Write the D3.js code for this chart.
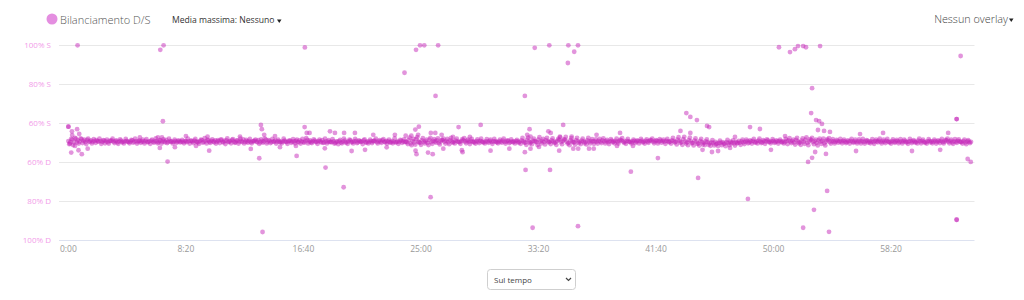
<!DOCTYPE html>
<html>
<head>
<meta charset="utf-8">
<script src="https://cdn.jsdelivr.net/npm/d3@7"></script>
<style>
  body { margin: 0; background: #fff; font-family: 'Open Sans', sans-serif; }
  svg { display: block; }
</style>
</head>
<body>
<svg width="1024" height="300"></svg>
<script>
// sampling step of the main series, seconds
const sampleStep = 8;

// balance values (% S), samples at 0, 8, 16 ... s
const band = [
  50.8,50.2,51.6,50.1,52.0,51.2,50.6,51.8,50.9,50.3,51.4,50.7,51.1,50.5,50.9,51.3,50.6,50.8,50.4,51.0,
  50.7,50.3,50.9,51.1,50.5,50.8,50.2,50.6,51.0,50.4,50.7,50.9,50.3,50.6,51.2,50.5,50.8,50.4,50.9,50.6,
  50.5,50.9,50.3,50.7,51.0,50.4,50.8,50.6,50.2,51.1,50.5,50.7,51.4,50.3,50.9,50.6,50.4,50.8,50.5,50.7,
  50.6,50.4,50.8,50.3,50.7,50.9,50.5,51.0,50.6,50.2,50.8,51.3,50.4,50.7,51.5,50.3,50.9,50.6,51.2,50.5,
  50.8,51.6,50.4,50.9,51.1,50.3,50.7,51.4,50.6,50.2,51.0,50.5,50.8,51.7,50.4,50.6,50.9,50.3,50.7,51.0,
  50.5,51.3,50.2,50.8,50.6,51.5,50.4,50.9,50.3,50.7,51.1,50.5,50.8,50.4,50.6,51.0,50.3,50.7,50.9,50.5,
  50.6,50.9,50.4,51.2,50.7,50.3,50.8,51.4,50.5,50.2,50.7,51.0,50.4,50.8,50.6,51.3,50.1,50.7,50.5,50.3,
  50.2,50.6,49.9,50.4,50.8,50.1,50.5,51.0,50.3,50.7,51.2,50.4,50.6,50.9,50.2,50.8,50.5,51.1,50.3,50.7,
  50.4,50.8,50.6,51.0,50.3,50.7,50.5,51.2,50.4,50.9,50.6,50.2,50.8,50.5,50.1,50.7,50.4,51.0,50.6,50.3,
  50.2,51.4,49.6,50.8,50.1,51.8,50.5,49.9,51.2,50.4,50.7,49.8,51.5,50.3,50.9,50.6,51.1,50.0,50.7,51.3,
  50.5,50.9,50.2,51.2,50.6,50.4,51.0,50.7,50.3,50.8,51.1,50.5,50.9,50.4,50.7,50.6,50.2,50.8,50.5,50.9,
  50.6,50.3,50.7,50.5,50.9,50.4,50.6,50.8,50.2,50.7,50.5,51.0,50.4,50.6,50.9,50.3,50.7,50.5,50.8,50.6,
  50.4,51.2,50.7,50.1,51.5,50.6,50.3,51.0,50.8,50.2,51.6,50.5,50.9,50.3,51.3,50.7,50.4,51.1,50.6,50.2,
  50.9,51.4,50.3,50.8,51.7,50.5,49.9,51.1,50.6,50.2,51.3,50.7,50.4,51.0,50.6,50.3,51.2,50.5,50.8,50.6,
  50.7,50.4,50.9,50.5,51.1,50.6,50.8,50.3,50.7,51.0,50.5,50.9,50.4,50.8,51.2,50.6,50.5,50.9,50.7,50.4,
  50.6,50.9,50.5,50.8,50.7,51.0,50.4,50.9,50.6,50.8,51.1,50.5,50.7,50.9,50.6,51.0,50.8,50.5,50.9,50.7,
  50.6,51.2,50.8,50.4,51.5,50.9,50.3,51.8,50.6,50.2,51.3,50.7,49.8,51.0,50.5,49.6,50.9,50.2,49.9,50.6,
  50.3,49.7,50.1,49.8,50.4,49.6,50.0,49.9,50.3,49.5,50.2,49.8,50.5,50.1,49.7,50.4,50.0,49.9,50.6,50.2,
  50.4,50.8,50.1,50.6,50.9,50.3,50.7,51.0,50.5,50.2,50.8,50.6,51.1,50.4,50.7,50.9,50.3,50.6,50.8,50.5,
  50.7,50.3,50.9,51.2,50.5,50.8,50.1,51.4,50.6,50.2,51.0,50.4,51.6,49.9,50.7,51.3,50.3,50.8,49.8,51.1,
  50.5,50.9,49.7,50.6,51.2,50.3,50.8,50.6,50.4,50.9,50.7,50.5,50.8,50.6,50.3,50.7,50.9,50.5,50.6,50.4,
  50.7,50.5,50.8,50.4,50.6,50.9,50.5,50.7,50.3,50.8,50.6,51.0,50.4,50.7,50.5,50.9,50.6,50.3,50.8,50.5,
  50.6,50.8,50.4,50.7,50.5,50.9,50.3,50.6,50.8,50.5,50.7,50.4,51.0,50.6,50.8,50.5,50.3,50.7,50.9,50.6,
  50.5,50.8,50.4,50.7,50.9,50.3,50.6,51.1,50.5,50.8,50.2,50.7,50.4,50.9,50.6,50.3,50.8,50.1,50.6,50.5,
  50.4
];

// balance values (% S), samples at 4, 12, 20 ... s
const bandHalf = [
  49.2,51.9,48.8,52.4,50.1,49.5,52.2,49.8,51.5,49.3,52.0,50.4,49.6,51.8,49.9,50.7,52.1,49.4,51.3,49.7,
  51.6,49.5,50.9,52.0,49.8,51.2,49.4,51.7,50.2,49.6,51.9,50.5,49.7,51.4,50.0,52.1,49.5,51.0,49.9,51.5,
  49.6,51.8,50.3,49.4,51.6,50.0,52.2,49.7,51.1,49.5,51.7,50.2,49.8,52.0,50.4,49.6,51.5,49.9,51.2,50.1,
  51.4,49.7,50.8,52.1,49.5,51.0,49.8,51.9,50.3,49.4,51.6,50.0,52.3,49.6,51.1,49.9,51.7,50.2,49.5,51.3,
  49.8,51.5,50.1,49.3,52.2,50.6,49.7,51.8,49.9,51.2,49.5,52.0,50.3,49.6,51.4,50.0,51.9,49.7,50.8,51.6,
  50.2,49.4,51.7,50.0,52.1,49.6,51.3,49.8,51.9,50.4,49.5,51.6,50.1,49.7,52.0,50.5,49.4,51.2,49.9,51.8,
  49.7,51.6,50.2,49.5,51.9,50.0,52.3,49.6,51.1,49.8,51.7,50.3,49.4,51.5,50.1,49.9,52.0,49.6,51.3,50.4,
  51.8,49.5,50.6,49.2,51.4,49.7,52.1,50.0,49.4,51.6,50.2,49.6,51.9,49.8,51.2,50.4,49.3,51.7,50.0,49.6,
  51.5,49.8,50.9,52.0,49.6,51.3,49.9,51.8,50.2,49.5,51.6,50.1,49.7,52.2,50.3,49.4,51.4,49.9,51.7,50.5,
  49.3,52.6,48.7,51.9,49.0,52.8,50.2,48.9,52.3,49.6,51.5,48.8,52.5,49.4,51.8,50.0,52.2,49.1,51.4,52.0,
  49.5,51.9,49.2,52.4,50.0,49.6,52.1,50.3,49.4,51.8,52.3,49.7,51.5,49.3,51.9,50.2,49.5,51.7,49.8,52.0,
  50.1,49.6,51.8,49.9,51.5,49.4,51.9,50.3,49.7,51.6,50.0,52.1,49.5,51.2,49.8,51.7,50.2,49.6,51.4,49.9,
  49.4,52.4,50.0,48.9,52.6,49.7,49.2,52.1,50.5,48.8,52.8,49.6,51.9,49.1,52.5,50.2,49.3,52.2,49.8,48.9,
  51.9,52.7,49.2,51.6,52.9,49.5,48.7,52.3,50.1,49.0,52.5,49.8,49.3,52.0,49.7,49.1,52.4,49.6,51.8,49.4,
  51.7,49.5,51.9,49.8,52.2,49.6,51.4,49.3,51.8,50.2,49.7,52.0,49.5,51.6,52.3,49.9,49.4,51.9,50.3,49.6,
  51.5,49.8,51.2,49.6,51.9,50.1,49.5,51.7,49.9,51.4,52.0,49.7,51.3,49.6,51.8,50.0,51.5,49.4,51.9,50.2,
  49.5,52.5,50.1,49.1,52.8,49.9,48.9,53.0,49.6,48.7,52.6,49.8,48.6,52.2,49.4,48.5,51.9,49.0,48.8,51.7,
  48.9,48.4,51.3,48.6,49.2,48.3,51.0,48.7,49.5,48.2,51.4,48.8,49.6,51.2,48.5,49.7,50.9,48.9,51.5,49.3,
  51.6,49.7,51.2,49.5,51.9,50.0,49.6,52.0,49.8,51.3,49.4,51.7,50.3,49.7,51.8,49.9,51.1,49.5,51.6,50.1,
  49.6,51.9,49.3,52.3,49.8,51.6,49.0,52.5,49.7,48.9,52.2,49.4,52.7,48.7,51.8,52.4,49.2,51.6,48.6,52.1,
  49.4,52.0,48.6,51.7,52.3,49.5,51.8,49.6,51.4,50.0,51.9,49.7,51.6,49.8,51.2,49.5,51.9,49.9,51.5,49.6,
  51.7,49.6,51.9,49.5,51.3,50.0,49.7,51.8,49.4,51.6,50.2,52.0,49.6,51.5,49.8,51.9,50.1,49.5,51.7,49.9,
  51.4,49.7,51.8,49.6,51.5,50.2,49.4,51.9,49.8,51.3,50.0,49.6,52.1,49.7,51.6,49.9,49.5,51.8,50.1,49.7,
  51.6,49.5,51.2,49.8,51.9,49.6,51.4,52.0,49.7,51.5,49.4,51.8,49.9,51.7,50.3,49.5,51.6,49.2,51.3,49.8
];

// off-band samples: [seconds, % S]
const outliers = [
  [0,58.2],[0,58.2],[6,49.5],[12,44.9],[15,55.8],[16,53.9],[28,48.3],[37,56.9],[39,100],[43,46.1],
  [46,54.5],[57,44.1],[82,46.9],[304,52.7],[381,52.7],[389,47.3],[391,97.7],[398,52.7],[402,61],[405,100],
  [422,40.3],[453,47.7],[500,53.4],[543,48.3],[592,53.1],[599,45.9],[730,53.1],[776,46.8],[812,42],[819,59.1],
  [823,56.9],[826,4.1],[833,54],[879,53.4],[900,47.7],[968,48.3],[971,43.2],[1005,58],[1006,98.9],[1014,55],
  [1026,55],[1091,47.1],[1094,37.2],[1113,55.8],[1134,55],[1171,27.1],[1173,55],[1205,45.7],[1219,55],[1262,46.3],
  [1297,54],[1354,47.6],[1389,54],[1430,85.9],[1435,53.6],[1459,53.6],[1476,56.7],[1477,45.9],[1479,97.7],[1481,44.1],
  [1488,54],[1491,58.2],[1496,100],[1514,100],[1530,44.9],[1541,22],[1542,55],[1550,44.1],[1561,55],[1562,74],
  [1573,100],[1588,54],[1595,46.9],[1636,52.9],[1660,58],[1674,46.1],[1677,45.1],[1708,52.9],[1754,59.1],[1796,45.9],
  [1876,46.9],[1942,74],[1942,45.1],[1945,36],[1952,54],[1962,56.9],[1966,53.1],[1966,46.9],[1975,6.3],[1984,98.7],
  [2002,47.8],[2042,55.8],[2046,100],[2049,36],[2052,55],[2088,45.9],[2091,53.1],[2105,59.1],[2125,90.9],[2127,100],
  [2141,53.1],[2148,46.9],[2152,96.7],[2168,100],[2168,7.1],[2169,46.9],[2215,46.9],[2235,46.9],[2247,54],[2334,48.3],
  [2347,55],[2393,35.1],[2402,48.3],[2508,42.1],[2604,56],[2629,65.2],[2646,63.2],[2646,55],[2674,61.6],[2679,31.9],
  [2698,46.3],[2717,58.6],[2726,58],[2738,45.2],[2764,45.7],[2815,47.3],[2836,52.9],[2891,21.1],[2900,58],[2942,57],
  [2989,46.3],[3023,99],[3049,53.4],[3070,96.5],[3091,98],[3104,99.6],[3126,99.6],[3126,6.3],[3138,99],[3147,40.1],
  [3160,65.2],[3164,78],[3164,42.2],[3172,15.5],[3177,45.2],[3181,61.6],[3189,56.5],[3194,61.1],[3198,99.6],[3206,59.6],
  [3215,56],[3223,44.2],[3228,25.2],[3236,4.2],[3240,55.5],[3351,45.7],[3368,54.4],[3466,55],[3589,45.7],[3709,46.3],
  [3743,55],[3779,62.1],[3779,62.1],[3779,10.4],[3779,10.4],[3796,94.5],[3826,41.6],[3839,40.1]
];

const yTicks = [100, 80, 60, 40, 20, 0];
const xTicks = [0, 500, 1000, 1500, 2000, 2500, 3000, 3500];

const svg = d3.select('svg');

const x = d3.scaleLinear().domain([-40, 3855]).range([59, 974.5]);
const y = d3.scaleLinear().domain([0, 100]).range([240, 45.3]);

const yLabel = (v) => v >= 50 ? v + '% S' : (100 - v) + '% D';
const xLabel = (s) => Math.floor(s / 60) + ':' + d3.format('02')(s % 60);

// grid
svg.append('g').selectAll('line')
  .data(yTicks)
  .join('line')
  .attr('x1', x.range()[0])
  .attr('x2', x.range()[1])
  .attr('y1', d => Math.round(y(d)) + 0.5)
  .attr('y2', d => Math.round(y(d)) + 0.5)
  .attr('stroke', d => d === 0 ? '#dde2f0' : '#e8e8e8')
  .attr('stroke-width', 1);

// y labels
svg.append('g').selectAll('text')
  .data(yTicks)
  .join('text')
  .attr('x', 51)
  .attr('y', d => y(d) + 3)
  .attr('text-anchor', 'end')
  .attr('font-size', '8px')
  .attr('fill', '#f29be9')
  .text(yLabel);

// x labels
svg.append('g').selectAll('text')
  .data(xTicks)
  .join('text')
  .attr('x', d => x(d))
  .attr('y', 252)
  .attr('text-anchor', 'middle')
  .attr('font-size', '8.5px')
  .attr('fill', '#999')
  .text(xLabel);

// points
const points = band.map((v, i) => [i * sampleStep, v])
  .concat(bandHalf.map((v, i) => [i * sampleStep + sampleStep / 2, v]))
  .concat(outliers);

svg.append('g').selectAll('circle')
  .data(points)
  .join('circle')
  .attr('cx', d => x(d[0]))
  .attr('cy', d => y(d[1]))
  .attr('r', 2.4)
  .attr('fill', '#c52ab9')
  .attr('fill-opacity', 0.5);

// legend
svg.append('circle')
  .attr('cx', 52).attr('cy', 19).attr('r', 5.5)
  .attr('fill', '#e48ee0');
svg.append('text')
  .attr('x', 60).attr('y', 23.5)
  .attr('font-size', '11px')
  .attr('font-weight', 300)
  .attr('fill', '#555')
  .text('Bilanciamento D/S');

const media = svg.append('text')
  .attr('x', 172).attr('y', 23)
  .attr('font-size', '8.6px')
  .attr('fill', '#333')
  .text('Media massima: Nessuno');
const mediaEnd = 172 + media.node().getComputedTextLength();
svg.append('path')
  .attr('d', `M${mediaEnd + 2.5},19.5 L${mediaEnd + 7},19.5 L${mediaEnd + 4.75},23 Z`)
  .attr('fill', '#222');

svg.append('text')
  .attr('x', 1008).attr('y', 23)
  .attr('text-anchor', 'end')
  .attr('font-size', '10.8px')
  .attr('font-weight', 300)
  .attr('fill', '#444')
  .text('Nessun overlay');
svg.append('path')
  .attr('d', 'M1009,18.5 L1013.5,18.5 L1011.25,22 Z')
  .attr('fill', '#222');

// select box
svg.append('rect')
  .attr('x', 487.5).attr('y', 269.5).attr('width', 88).attr('height', 20)
  .attr('rx', 3)
  .attr('fill', '#fff')
  .attr('stroke', '#cfcfcf');
svg.append('text')
  .attr('x', 494).attr('y', 282.5)
  .attr('font-size', '8px')
  .attr('fill', '#444')
  .text('Sul tempo');
svg.append('path')
  .attr('d', 'M566,278 L568.5,280.5 L571,278')
  .attr('fill', 'none')
  .attr('stroke', '#444')
  .attr('stroke-width', 1.2);
</script>
</body>
</html>
